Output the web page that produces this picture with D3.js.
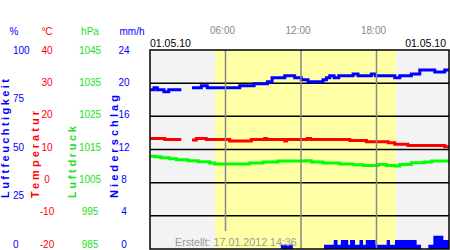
<!DOCTYPE html>
<html>
<head>
<meta charset="utf-8">
<script src="https://cdn.jsdelivr.net/npm/d3@7"></script>
<style>
  body { margin: 0; background: #fff; }
  svg { display: block; }
  text { font-family: "Liberation Sans", Arial, sans-serif; }
</style>
</head>
<body>
<svg id="chart" width="450" height="250"></svg>
<script>
// hours of day where a value starts; null = no data
const END_HOUR = 23.75;
const SUNRISE = 5.17;
const SUNSET = 19.55;
const timeTicks = [6, 12, 18];
const timeLabels = ["06:00", "12:00", "18:00"];
const dateLabel = "01.05.10";

const humTimes = [0, 0.32, 0.58, 1.11, 1.49, 2.49, 3.34, 4.08, 4.55, 7.13, 8.27, 9.33, 9.7, 10.71, 11.5,
  12.03, 12.56, 13.75, 14.02, 14.28, 14.63, 15.0, 16.14, 16.53, 17.59, 17.92, 19.45, 19.85, 20.77, 21.44, 22.63, 23.42];
const humValues = [80, 81, 80, 79, 80, null, 81, 82, 81, 82, 83, 84, 86, 87, 86,
  85, 84, 85, 86, 87, 86, 87, 88, 87, 88, 87, 86, 87, 88, 90, 89, 90];

const tempTimes = [0, 1.17, 2.49, 3.34, 3.68, 4.48, 6.33, 8.05, 9.11, 9.27, 10.71, 10.84, 12.5, 12.77,
  15.88, 17.2, 18.93, 19.45, 20.5, 23.42];
const tempValues = [13.3, 13.0, null, 12.9, 13.3, 13.0, 12.6, 13.0, 13.3, 13.0, 12.6, 13.0, 13.3, 13.0,
  12.7, 12.3, 12.0, 11.6, 11.2, 10.8];

const presTimes = [0, 0.37, 0.85, 1.56, 2.1, 3.02, 3.82, 4.75, 5.14, 7.92, 8.98, 10.17, 12.4, 12.82,
  13.75, 15.08, 16.14, 16.93, 18.13, 18.79, 19.45, 19.85, 20.77, 21.84, 22.37];
const presValues = [1013.0, 1012.8, 1012.5, 1012.2, 1011.9, 1011.6, 1011.3, 1010.9, 1010.6, 1010.9, 1011.2, 1011.5, 1011.6, 1011.2,
  1010.9, 1010.6, 1010.4, 1010.2, 1010.5, 1010.2, 1010.0, 1010.5, 1011.0, 1011.2, 1011.5];

const rainTimes = [0, 10.4, 11.35, 13.83, 14.6, 14.9, 15.17, 15.75, 15.9, 16.29, 16.65, 16.93, 17.15, 17.92,
  18.81, 19.07, 19.47, 21.19, 21.54, 22.12, 22.52, 23.31];
const rainValues = [0, 0.5, 0, 0.5, 1.1, 0.5, 1.1, 0.5, 1.1, 0.5, 1.1, 0.5, 1.1, 0.5,
  1.1, 0.5, 1.1, 0.5, 0, 0.5, 1.6, 1.1];

const humTicks = [0, 25, 50, 75, 100];
const tempTicks = [-20, -10, 0, 10, 20, 30, 40];
const presTicks = [985, 995, 1005, 1015, 1025, 1035, 1045];
const rainTicks = [0, 4, 8, 12, 16, 20, 24];

const BLUE = "#0000ff", RED = "#ff0000", GREEN = "#00ff00", GREEN_TXT = "#22e022";

const pLeft = 150, pRight = 449, pTop = 50, pBottom = 249;

const svg = d3.select("#chart");

const x = d3.scaleLinear().domain([0, 24]).range([pLeft, pLeft + 302]);
const yHum = d3.scaleLinear().domain([0, 100]).range([pBottom, pTop]);
const yTemp = d3.scaleLinear().domain([-20, 40]).range([pBottom, pTop]);
const yPres = d3.scaleLinear().domain([985, 1045]).range([pBottom, pTop]);
const yRain = d3.scaleLinear().domain([0, 24]).range([pBottom, pTop]);
const yGrid = d3.scaleLinear().domain([0, 6]).range([pBottom, pTop]);
// tick labels sit on a slightly shorter band than the grid
const labelBand = [244, 50];

// turn change points into step segments
const steps = (times, values) => {
  const pts = [];
  times.forEach((t, i) => {
    const t2 = i < times.length - 1 ? times[i + 1] : END_HOUR;
    pts.push({ t: t, v: values[i] }, { t: t2, v: values[i] });
  });
  return pts;
};

svg.append("defs").append("clipPath").attr("id", "plot")
  .append("rect").attr("x", pLeft).attr("y", pTop)
  .attr("width", pRight - pLeft).attr("height", pBottom - pTop);

const plot = svg.append("g").attr("clip-path", "url(#plot)");

plot.append("rect").attr("x", pLeft).attr("y", pTop)
  .attr("width", pRight - pLeft).attr("height", pBottom - pTop).attr("fill", "#f3f3f3");
plot.append("rect").attr("x", x(SUNRISE)).attr("y", pTop)
  .attr("width", x(SUNSET) - x(SUNRISE)).attr("height", pBottom - pTop).attr("fill", "#ffffa6");

// horizontal grid
plot.selectAll(".grid").data(d3.range(1, 6)).join("line")
  .attr("x1", pLeft).attr("x2", pRight)
  .attr("y1", (d) => yGrid(d)).attr("y2", (d) => yGrid(d))
  .attr("stroke", "#000").attr("stroke-width", 1.5);

// rain
const rainArea = d3.area()
  .x((d) => x(d.t)).y0(pBottom).y1((d) => yRain(d.v));
plot.append("path").attr("d", rainArea(steps(rainTimes, rainValues))).attr("fill", BLUE);

const drawLine = (times, values, yScale, color) => {
  const line = d3.line().defined((d) => d.v != null)
    .x((d) => x(d.t)).y((d) => yScale(d.v));
  plot.append("path").attr("d", line(steps(times, values)))
    .attr("fill", "none").attr("stroke", color).attr("stroke-width", 3);
};
drawLine(presTimes, presValues, yPres, GREEN);
drawLine(tempTimes, tempValues, yTemp, RED);
drawLine(humTimes, humValues, yHum, BLUE);

// vertical time lines
plot.selectAll(".vline").data(timeTicks).join("line")
  .attr("x1", (d) => x(d)).attr("x2", (d) => x(d))
  .attr("y1", pTop).attr("y2", (d, i) => (i === 0 ? pBottom - 18 : pBottom))
  .attr("stroke", "#888").attr("stroke-width", 1.5);

svg.append("rect").attr("x", pLeft).attr("y", pTop)
  .attr("width", pRight - pLeft).attr("height", pBottom - pTop)
  .attr("fill", "none").attr("stroke", "#000").attr("stroke-width", 1.5);

plot.append("text").attr("x", pLeft + 25).attr("y", pBottom - 3.5)
  .attr("font-size", 10.7).attr("fill", "#999")
  .text("Erstellt: 17.01.2012 14:36");

// top labels
svg.selectAll(".tlab").data(timeTicks).join("text")
  .attr("x", (d) => x(d) - 3).attr("y", 33.5)
  .attr("text-anchor", "middle").attr("font-size", 10).attr("fill", "#888")
  .text((d, i) => timeLabels[i]);
svg.append("text").attr("x", pLeft).attr("y", 46.5).attr("font-size", 10.5).text(dateLabel);
svg.append("text").attr("x", 446).attr("y", 46.5).attr("font-size", 10.5)
  .attr("text-anchor", "end").text(dateLabel);

// left axes
const axes = [
  { ticks: humTicks, unit: "%", title: "Luftfeuchtigkeit", color: BLUE, x: 13, anchor: "start", ux: 14, tx: 9, len: 119 },
  { ticks: tempTicks, unit: "°C", title: "Temperatur", color: RED, x: 47, anchor: "middle", ux: 47, tx: 39, len: 87 },
  { ticks: presTicks, unit: "hPa", title: "Luftdruck", color: GREEN_TXT, x: 90, anchor: "middle", ux: 90, tx: 75.5, len: 72 },
  { ticks: rainTicks, unit: "mm/h", title: "Niederschlag", color: BLUE, x: 124, anchor: "middle", ux: 132, tx: 117.5, len: 103 },
];
axes.forEach((a) => {
  const ly = d3.scaleLinear().domain(d3.extent(a.ticks)).range(labelBand);
  svg.append("g").selectAll("text").data(a.ticks).join("text")
    .attr("x", a.x).attr("y", (d) => ly(d)).attr("dy", "0.36em")
    .attr("text-anchor", a.anchor).attr("font-size", 10).attr("fill", a.color)
    .text((d) => d);
  svg.append("text").attr("x", a.ux).attr("y", 34.5).attr("text-anchor", "middle")
    .attr("font-size", 10).attr("fill", a.color).text(a.unit);
  svg.append("text").attr("transform", `translate(${a.tx},198) rotate(-90)`)
    .attr("font-size", 11).attr("font-weight", "bold").attr("fill", a.color)
    .attr("textLength", a.len).attr("lengthAdjust", "spacing").text(a.title);
});
</script>
</body>
</html>
